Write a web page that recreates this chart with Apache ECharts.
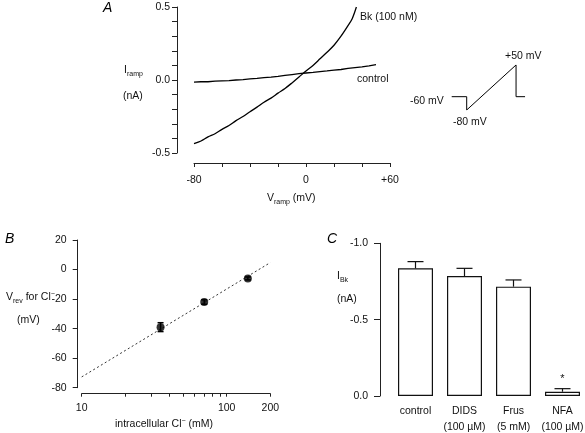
<!DOCTYPE html>
<html>
<head>
<meta charset="utf-8">
<script src="https://cdn.jsdelivr.net/npm/echarts@6/dist/echarts.min.js"></script>
<style>
html,body{margin:0;padding:0;background:#fff;}
#c{width:585px;height:433px;}
</style>
</head>
<body>
<div id="c"></div>
<script>
// ---------- Panel A: ramp I-V traces ----------
var rampVoltage = [-80,-75,-70,-65,-60,-55,-50,-45,-40,-35,-30,-25,-20,-15,-10,-5,0,5,10,15,20,25,30,33,36];
var bkCurrent   = [-0.436,-0.418,-0.39,-0.368,-0.338,-0.312,-0.278,-0.25,-0.217,-0.186,-0.152,-0.124,-0.09,-0.058,-0.02,0.02,0.062,0.1,0.145,0.19,0.238,0.3,0.372,0.42,0.5];
var ctrlVoltage = [-80,-75,-70,-65,-60,-55,-50,-45,-40,-35,-30,-25,-20,-15,-10,-5,0,5,10,15,20,25,30,35,40,45,50];
var ctrlCurrent = [-0.014,-0.012,-0.012,-0.008,-0.006,-0.004,0.0,0.003,0.008,0.011,0.016,0.02,0.025,0.031,0.037,0.043,0.048,0.052,0.058,0.062,0.067,0.072,0.079,0.085,0.09,0.097,0.105];
var xLabelsA = {'-80':'-80','0':'0','60':'+60'};

// ---------- Inset: voltage protocol (schematic units) ----------
var protocolT = [0,1,1,4.29,4.29,4.89];
var protocolLevel = [0,0,-1,2.38,0,0];

// ---------- Panel B: reversal potential vs intracellular Cl- ----------
var clConc   = [35, 70, 140];
var vrev     = [-39, -22, -6];
var vrevErr  = [3, 1.5, 1];
var fitConc  = [10, 200];
var fitVrev  = [-72.7, 4.7];
var xTicksB  = [10,20,30,40,50,60,70,80,90,100,200];
var xLabelsB = [10,100,200];

// ---------- Panel C: I_Bk with blockers ----------
var blockers    = ['control','DIDS\n(100 \u00b5M)','Frus\n(5 mM)','NFA\n(100 \u00b5M)'];
var ibkMean     = [-0.836,-0.786,-0.716,-0.028];
var ibkErrTop   = [-0.88,-0.836,-0.76,-0.048];
var significance= ['','','','*'];

var FONT = 'Liberation Sans, Arial, sans-serif';
var TXT = '#111';

var chart = echarts.init(document.getElementById('c'), null, {renderer:'canvas'});

function zip(a,b){ return a.map(function(v,i){ return [v,b[i]]; }); }

function axLine(){ return {show:true, onZero:false, lineStyle:{color:'#222', width:1}}; }

var option = {
  backgroundColor:'#fff',
  animation:false,
  textStyle:{fontFamily:FONT},
  grid:[
    {left:194, top:7, width:196, height:146, outerBoundsMode:'none'},
    {left:451.7, top:64.7, width:75, height:45.3, outerBoundsMode:'none'},
    {left:81.7, top:240, width:188.6, height:147.7, outerBoundsMode:'none'},
    {left:391, top:243.3, width:196, height:152.7, outerBoundsMode:'none'}
  ],
  xAxis:[
    {gridIndex:0, type:'value', min:-80, max:60, interval:20, offset:10,
     axisLine:axLine(), axisTick:{length:4, lineStyle:{color:'#222'}},
     splitLine:{show:false},
     axisLabel:{margin:12, fontSize:10.5, color:TXT, fontFamily:FONT,
       formatter:function(v){ return xLabelsA[String(v)] || ''; }}},
    {gridIndex:1, type:'value', min:0, max:5, show:false},
    {gridIndex:2, type:'log', logBase:10, min:10, max:200, offset:6,
     axisLine:axLine(),
     axisTick:{length:3, customValues:xTicksB, lineStyle:{color:'#222'}},
     splitLine:{show:false}, minorTick:{show:false},
     axisLabel:{margin:9, fontSize:10.5, color:TXT, fontFamily:FONT, customValues:xLabelsB,
       formatter:function(v){ return String(Math.round(v)); }}},
    {gridIndex:3, type:'category', data:blockers,
     axisLine:{show:false, onZero:false}, axisTick:{show:false},
     axisLabel:{margin:7, fontSize:10.5, color:TXT, fontFamily:FONT, lineHeight:16, interval:0}}
  ],
  yAxis:[
    {gridIndex:0, type:'value', min:-0.5, max:0.5, interval:0.5, offset:17,
     axisLine:axLine(),
     axisTick:{show:true, length:5, lineStyle:{color:'#222'}},
     minorTick:{show:true, splitNumber:5, length:5, lineStyle:{color:'#222'}},
     splitLine:{show:false}, minorSplitLine:{show:false},
     axisLabel:{margin:7, fontSize:10.5, color:TXT, fontFamily:FONT,
       formatter:function(v){ return v.toFixed(1); }}},
    {gridIndex:1, type:'value', min:-1, max:2.4, show:false},
    {gridIndex:2, type:'value', min:-80, max:20, interval:20, offset:4,
     axisLine:axLine(),
     axisTick:{show:true, length:5, lineStyle:{color:'#222'}},
     splitLine:{show:false},
     axisLabel:{margin:11, fontSize:10.5, color:TXT, fontFamily:FONT}},
    {gridIndex:3, type:'value', min:-1, max:0, interval:0.5, inverse:true, offset:11,
     axisLine:axLine(),
     axisTick:{show:true, length:6, lineStyle:{color:'#222'}},
     splitLine:{show:false},
     axisLabel:{margin:12, fontSize:10.5, color:TXT, fontFamily:FONT,
       formatter:function(v){ return v.toFixed(1); }}}
  ],
  series:[
    {type:'line', xAxisIndex:0, yAxisIndex:0, data:zip(rampVoltage,bkCurrent),
     showSymbol:false, smooth:0.3, lineStyle:{color:'#000', width:1.3}, clip:true},
    {type:'line', xAxisIndex:0, yAxisIndex:0, data:zip(ctrlVoltage,ctrlCurrent),
     showSymbol:false, lineStyle:{color:'#000', width:1.3}},
    {type:'line', xAxisIndex:1, yAxisIndex:1, data:zip(protocolT,protocolLevel),
     showSymbol:false, lineStyle:{color:'#000', width:1}},
    {type:'line', xAxisIndex:2, yAxisIndex:2, data:zip(fitConc,fitVrev),
     showSymbol:false, lineStyle:{color:'#333', width:1, type:[2,2.5]}},
    {type:'custom', xAxisIndex:2, yAxisIndex:2,
     data:clConc.map(function(c,i){ return [c, vrev[i], vrevErr[i]]; }),
     renderItem:function(params, api){
       var x = api.value(0), y = api.value(1), e = api.value(2);
       var p1 = api.coord([x, y - e]), p2 = api.coord([x, y + e]);
       var st = {stroke:'#000', lineWidth:1.5};
       return {type:'group', children:[
         {type:'line', shape:{x1:p1[0],y1:p1[1],x2:p2[0],y2:p2[1]}, style:st},
         {type:'line', shape:{x1:p1[0]-3,y1:p1[1],x2:p1[0]+3,y2:p1[1]}, style:st},
         {type:'line', shape:{x1:p2[0]-3,y1:p2[1],x2:p2[0]+3,y2:p2[1]}, style:st}
       ]};
     }, z:3},
    {type:'scatter', xAxisIndex:2, yAxisIndex:2, data:zip(clConc,vrev),
     symbol:'circle', symbolSize:8, itemStyle:{color:'#000'}, z:4},
    {type:'bar', xAxisIndex:3, yAxisIndex:3, data:ibkMean, barWidth:35,
     itemStyle:{color:'#fff', borderColor:'#111', borderWidth:1.2}},
    {type:'custom', xAxisIndex:3, yAxisIndex:3,
     data:ibkMean.map(function(m,i){ return [i, m, ibkErrTop[i]]; }),
     renderItem:function(params, api){
       var i = api.value(0);
       var p1 = api.coord([i, api.value(1)]), p2 = api.coord([i, api.value(2)]);
       var st = {stroke:'#111', lineWidth:1.2};
       var kids = [
         {type:'line', shape:{x1:p1[0],y1:p1[1],x2:p2[0],y2:p2[1]}, style:st},
         {type:'line', shape:{x1:p2[0]-8,y1:p2[1],x2:p2[0]+8,y2:p2[1]}, style:st}
       ];
       var s = significance[params.dataIndex];
       if (s) kids.push({type:'text', x:p2[0], y:p2[1]-4,
         style:{text:s, fill:'#111', font:'11px '+FONT, align:'center', verticalAlign:'bottom'}});
       return {type:'group', children:kids};
     }, z:5}
  ],
  graphic:[
    {type:'text', left:103, top:1, style:{text:'A', font:'italic 14px '+FONT, fill:'#000'}},
    {type:'text', left:5, top:232, style:{text:'B', font:'italic 14px '+FONT, fill:'#000'}},
    {type:'text', left:327, top:232, style:{text:'C', font:'italic 14px '+FONT, fill:'#000'}},
    {type:'text', left:360, top:12, style:{text:'Bk (100 nM)', font:'10.5px '+FONT, fill:TXT}},
    {type:'text', left:357, top:74, style:{text:'control', font:'10.5px '+FONT, fill:TXT}},
    {type:'text', left:124, top:65, style:{
      text:'{a|I}{s|ramp}', rich:{a:{fontSize:10.5, fontFamily:FONT, fill:TXT, verticalAlign:'bottom'},
                               s:{fontSize:7, fontFamily:FONT, fill:TXT, verticalAlign:'bottom', padding:[0,0,-2,0]}}}},
    {type:'text', left:123, top:91, style:{text:'(nA)', font:'10.5px '+FONT, fill:TXT}},
    {type:'text', left:267, top:193, style:{
      text:'{a|V}{s|ramp}{a| (mV)}', rich:{a:{fontSize:10.5, fontFamily:FONT, fill:TXT, verticalAlign:'bottom'},
                               s:{fontSize:7, fontFamily:FONT, fill:TXT, verticalAlign:'bottom', padding:[0,0,-2,0]}}}},
    {type:'text', left:410, top:96, style:{text:'-60 mV', font:'10.5px '+FONT, fill:TXT}},
    {type:'text', left:505, top:51, style:{text:'+50 mV', font:'10.5px '+FONT, fill:TXT}},
    {type:'text', left:453, top:117, style:{text:'-80 mV', font:'10.5px '+FONT, fill:TXT}},
    {type:'text', left:6, top:291, style:{
      text:'{a|V}{s|rev}{a| for Cl}{u|\u2212}', rich:{a:{fontSize:10.5, fontFamily:FONT, fill:TXT, verticalAlign:'bottom'},
                               s:{fontSize:7, fontFamily:FONT, fill:TXT, verticalAlign:'bottom', padding:[0,0,-2,0]},
                               u:{fontSize:7, fontFamily:FONT, fill:TXT, verticalAlign:'bottom', padding:[0,0,5,0]}}}},
    {type:'text', left:17, top:315, style:{text:'(mV)', font:'10.5px '+FONT, fill:TXT}},
    {type:'text', left:115, top:418, style:{
      text:'{a|intracellular Cl}{u|\u2212}{a| (mM)}', rich:{a:{fontSize:10.5, fontFamily:FONT, fill:TXT, verticalAlign:'bottom'},
                               u:{fontSize:7, fontFamily:FONT, fill:TXT, verticalAlign:'bottom', padding:[0,0,5,0]}}}},
    {type:'text', left:337, top:271, style:{
      text:'{a|I}{s|Bk}', rich:{a:{fontSize:10.5, fontFamily:FONT, fill:TXT, verticalAlign:'bottom'},
                               s:{fontSize:7, fontFamily:FONT, fill:TXT, verticalAlign:'bottom', padding:[0,0,-2,0]}}}},
    {type:'text', left:337, top:294, style:{text:'(nA)', font:'10.5px '+FONT, fill:TXT}}
  ]
};
chart.setOption(option);
</script>
</body>
</html>
